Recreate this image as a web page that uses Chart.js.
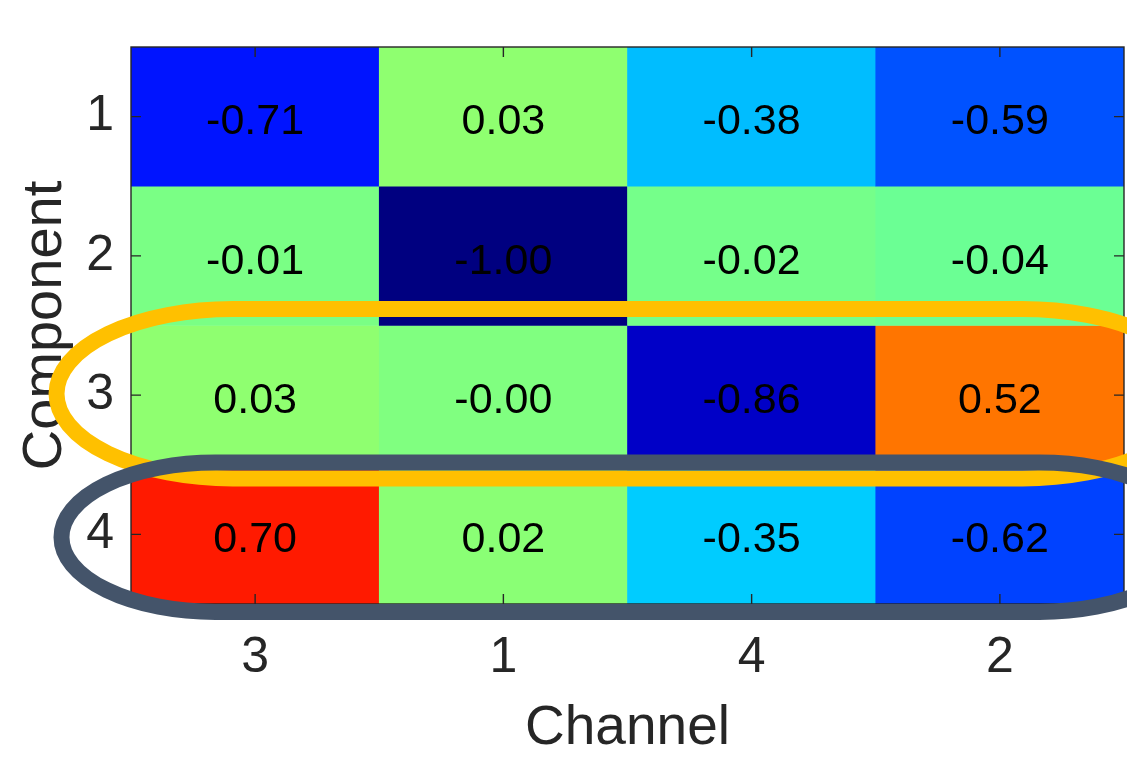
<!DOCTYPE html>
<html>
<head>
<meta charset="utf-8">
<script src="https://cdn.jsdelivr.net/npm/chart.js@4/dist/chart.umd.min.js"></script>
<style>
  html, body { margin: 0; padding: 0; background: #ffffff; }
  #wrap { width: 1127px; height: 758px; }
</style>
</head>
<body>
<div id="wrap"><canvas id="c" width="1127" height="758"></canvas></div>
<script>
// ---- data ----
const channels = ['3', '1', '4', '2'];          // x categories (column order)
const components = ['1', '2', '3', '4'];        // y categories (rows, top to bottom)
const row1 = [-0.71, 0.03, -0.38, -0.59];
const row2 = [-0.01, -1.00, -0.02, -0.04];
const row3 = [0.03, -0, -0.86, 0.52];
const row4 = [0.70, 0.02, -0.35, -0.62];
const rows = [row1, row2, row3, row4];
const colorMin = -1, colorMax = 1;

// ---- styles ----
const FONT = "'Liberation Sans', Arial, Helvetica, sans-serif";
const AXIS_COLOR = '#262626';
const CELL_FONT = 43;

function jet(v) {
  let t = (v - colorMin) / (colorMax - colorMin);
  t = Math.max(0, Math.min(1, t));
  const c = x => Math.round(255 * Math.max(0, Math.min(1, x)));
  const r = c(1.5 - Math.abs(4 * t - 3));
  const g = c(1.5 - Math.abs(4 * t - 2));
  const b = c(1.5 - Math.abs(4 * t - 1));
  return `rgb(${r},${g},${b})`;
}
function fmt(v) {
  const neg = v < 0 || Object.is(v, -0);
  return (neg ? '-' : '') + Math.abs(v).toFixed(2);
}

const datasets = rows.map((vals, i) => ({
  label: 'Component ' + components[i],
  data: vals.map(() => [i + 0.5, i + 1.5]),
  values: vals,
  backgroundColor: vals.map(jet),
  borderWidth: 0,
  borderSkipped: false,
  barPercentage: 1,
  categoryPercentage: 1,
  grouped: false
}));

// annotation outlines (data units of the axes)
const outlines = [
  { x0: -0.80, x1: 3.80, y0: 2.382, y1: 3.598, rx: 0.71, color: '#FFC000', width: 16 },
  { x0: -0.78, x1: 3.78, y0: 3.484, y1: 4.557, rx: 0.62, color: '#44546A', width: 16 }
];

const heatPlugin = {
  id: 'heat',
  afterDatasetsDraw(chart) {
    const ctx = chart.ctx;
    ctx.save();
    ctx.font = `${CELL_FONT}px ${FONT}`;
    ctx.fillStyle = '#000000';
    ctx.textAlign = 'center';
    ctx.textBaseline = 'alphabetic';
    chart.data.datasets.forEach((ds, di) => {
      const meta = chart.getDatasetMeta(di);
      meta.data.forEach((el, j) => {
        const cy = (el.y + el.base) / 2;
        ctx.fillText(fmt(ds.values[j]), el.x, cy + 0.41 * CELL_FONT);
      });
    });
    // box and inner ticks
    const a = chart.chartArea;
    const xs = chart.scales.x, ys = chart.scales.y;
    ctx.strokeStyle = AXIS_COLOR;
    ctx.lineWidth = 1.4;
    ctx.strokeRect(a.left, a.top, a.right - a.left, a.bottom - a.top);
    ctx.beginPath();
    const tl = 10;
    channels.forEach((c, j) => {
      const px = xs.getPixelForValue(j);
      ctx.moveTo(px, a.bottom); ctx.lineTo(px, a.bottom - tl);
      ctx.moveTo(px, a.top); ctx.lineTo(px, a.top + tl);
    });
    components.forEach((c, i) => {
      const py = ys.getPixelForValue(i + 1);
      ctx.moveTo(a.left, py); ctx.lineTo(a.left + tl, py);
      ctx.moveTo(a.right, py); ctx.lineTo(a.right - tl, py);
    });
    ctx.stroke();
    ctx.restore();
  },
  afterDraw(chart) {
    const ctx = chart.ctx;
    const xs = chart.scales.x, ys = chart.scales.y;
    ctx.save();
    outlines.forEach(o => {
      const x0 = xs.getPixelForValue(o.x0), x1 = xs.getPixelForValue(o.x1);
      const y0 = ys.getPixelForValue(o.y0), y1 = ys.getPixelForValue(o.y1);
      const rx = Math.abs(xs.getPixelForValue(o.rx) - xs.getPixelForValue(0));
      const ry = Math.abs(y1 - y0) / 2;
      const cy = (y0 + y1) / 2;
      const top = Math.min(y0, y1), bot = Math.max(y0, y1);
      ctx.beginPath();
      ctx.moveTo(x0 + rx, top);
      ctx.lineTo(x1 - rx, top);
      ctx.ellipse(x1 - rx, cy, rx, ry, 0, -Math.PI / 2, Math.PI / 2);
      ctx.lineTo(x0 + rx, bot);
      ctx.ellipse(x0 + rx, cy, rx, ry, 0, Math.PI / 2, 3 * Math.PI / 2);
      ctx.closePath();
      ctx.strokeStyle = o.color;
      ctx.lineWidth = o.width;
      ctx.stroke();
    });
    ctx.restore();
  }
};

new Chart(document.getElementById('c'), {
  type: 'bar',
  data: { labels: channels, datasets },
  options: {
    responsive: false,
    animation: false,
    devicePixelRatio: 1,
    layout: { padding: { top: 45, right: 3, left: 0, bottom: 0 } },
    plugins: { legend: { display: false }, tooltip: { enabled: false } },
    scales: {
      x: {
        type: 'category',
        offset: true,
        grid: { display: false, drawTicks: false },
        border: { display: false },
        ticks: { color: AXIS_COLOR, font: { family: FONT, size: 50 }, padding: 24, maxRotation: 0 },
        title: { display: true, text: 'Channel', color: AXIS_COLOR,
                 font: { family: FONT, size: 55, lineHeight: 1 }, padding: { top: 0, bottom: 2 } },
        afterFit(s) { s.height = 154; }
      },
      y: {
        type: 'linear',
        min: 0.5, max: 4.5,
        reverse: true,
        grid: { display: false, drawTicks: false },
        border: { display: false },
        afterBuildTicks(s) { s.ticks = components.map((c, i) => ({ value: i + 1 })); },
        ticks: {
          color: AXIS_COLOR, font: { family: FONT, size: 50 }, padding: 17,
          callback: (v) => components[Math.round(v) - 1]
        },
        title: { display: true, text: 'Component', color: AXIS_COLOR,
                 font: { family: FONT, size: 56, lineHeight: 1 }, padding: { top: 18, bottom: 0 } },
        afterFit(s) { s.width = 131; }
      }
    }
  },
  plugins: [heatPlugin]
});
</script>
</body>
</html>
